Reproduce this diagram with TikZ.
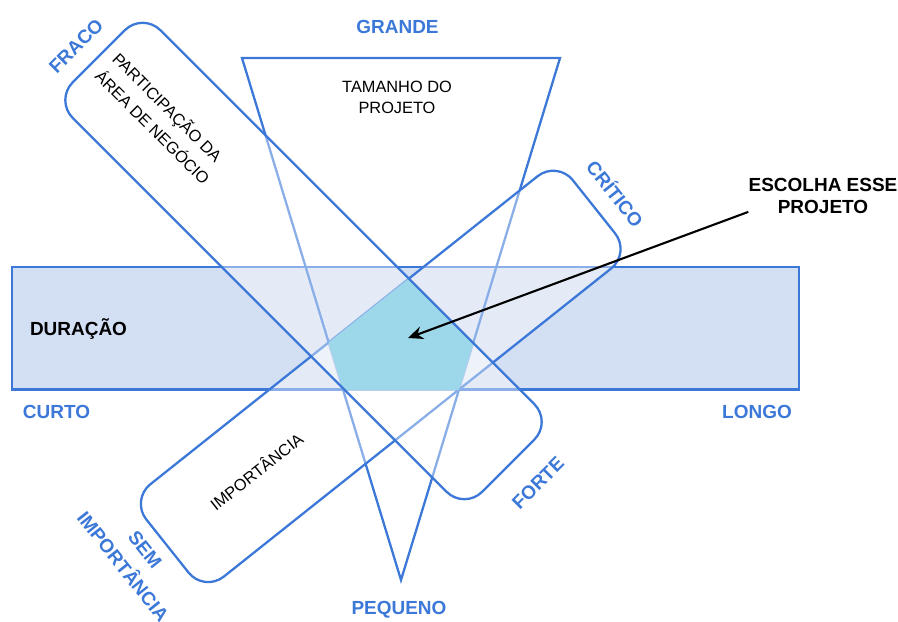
\documentclass[tikz,border=0pt]{standalone}
\usepackage{fontspec}
\setmainfont{Liberation Sans}
\usetikzlibrary{arrows.meta}

\definecolor{azul}{RGB}{60,120,216}
\definecolor{faixa}{RGB}{211,223,243}
\definecolor{ciano}{RGB}{93,190,220}

\tikzset{
  contorno/.style={draw=azul, line width=1.3pt},
  vidro/.style={fill=white, fill opacity=0.4},
  eixo/.style={text=azul, inner sep=0pt, font=\fontsize{10.8}{13}\selectfont\bfseries},
  rotulo/.style={inner sep=0pt, font=\fontsize{9.3}{12}\selectfont},
  destaque/.style={inner sep=0pt, font=\fontsize{10.8}{12.5}\selectfont\bfseries},
}

\begin{document}
\begin{tikzpicture}[x=0.2mm, y=-0.2mm]
            \useasboundingbox (0,0) rectangle (898,621);

            %band for the duration
            \draw[contorno, fill=faixa] (12,267) rectangle (799,389.5);

            %triangle for the size of the project
            \draw[contorno] (242,58) -- (560,58) -- (401,580) -- cycle;

            %rounded box for importance
            \draw[contorno, vidro, rounded corners=5mm, shift={(380.7,376.4)}, rotate=38.5] (-272.5,-59) rectangle (272.5,59);

            %the part that is inside everything
            \begin{scope}
                \clip (12,267) rectangle (799,389.5);
                \clip (242,58) -- (560,58) -- (401,580) -- cycle;
                \clip[shift={(380.7,376.4)}, rotate=38.5] (-272.5,-59) rectangle (272.5,59);
                \clip[shift={(303.5,261)}, rotate=-45] (-289.5,-62) rectangle (289.5,62);
                \fill[ciano] (0,0) rectangle (898,621);
            \end{scope}

            %rounded box for the business area
            \draw[contorno, vidro, rounded corners=5mm, shift={(303.5,261)}, rotate=-45] (-289.5,-62) rectangle (289.5,62);

            %ends of each scale
            \node[eixo] (grande) at (397.5,27) {GRANDE};
            \node[eixo] (pequeno) at (399,610) {PEQUENO};
            \node[eixo] (curto) at (56.5,412) {CURTO};
            \node[eixo] (longo) at (757,412) {LONGO};
            \node[eixo, rotate=45] (fraco) at (76,46) {FRACO};
            \node[eixo, rotate=45] (forte) at (538,483) {FORTE};
            \node[eixo, rotate=-51.5] (critico) at (616,193) {CRÍTICO};
            \node[eixo, rotate=-51.5, align=center, font=\fontsize{10.8}{16}\selectfont\bfseries] (sem) at (134,558) {SEM\\IMPORTÂNCIA};

            %names of the scales
            \node[rotulo, align=center] (tamanho) at (397,97) {TAMANHO DO\\PROJETO};
            \node[rotulo, rotate=-45, align=left, font=\fontsize{9.3}{14}\selectfont] (participacao) at (162,118) {PARTICIPAÇÃO DA\\ÁREA DE NEGÓCIO};
            \node[rotulo, rotate=38.5] (importancia) at (256,471) {IMPORTÂNCIA};
            \node[destaque] (duracao) at (78.5,329) {DURAÇÃO};

            %pointer to the chosen project
            \node[destaque, align=center] (escolha) at (823,196) {ESCOLHA ESSE\\PROJETO};
            \coordinate (centro) at (408,338);
            \draw[->, >={Stealth[length=3mm, width=2.6mm]}, line width=1.2pt] (escolha.192) -- (centro);

        \end{tikzpicture}
\end{document}
